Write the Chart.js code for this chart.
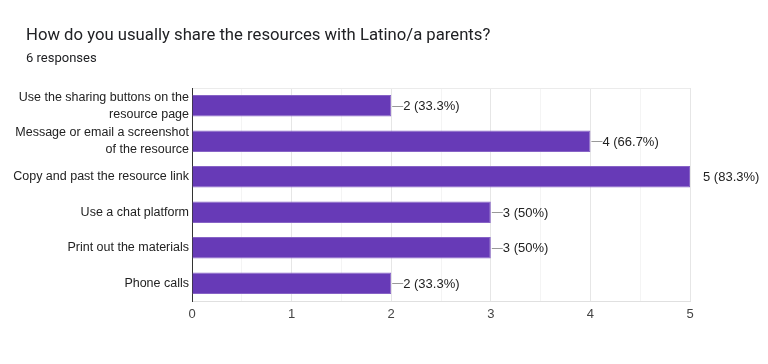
<!DOCTYPE html>
<html lang="en">
<head>
    <meta charset="UTF-8">
    <title>Share resources</title>
    <script src="https://cdn.jsdelivr.net/npm/chart.js"></script>
    <style>
        body { margin: 0; background: #fff; }
        #wrap { position: relative; width: 768px; height: 364px; }
        #title { position: absolute; left: 26px; top: 25px; font: 16.7px Roboto, sans-serif; color: #202124; white-space: nowrap; }
        #sub { position: absolute; left: 26px; top: 50px; font: 13px Roboto, sans-serif; color: #202124; }
        canvas { position: absolute; left: 0; top: 0; }
    </style>
</head>
<body>
<div id="wrap">
    <canvas id="chart" width="768" height="364"></canvas>
    <div id="title">How do you usually share the resources with Latino/a parents?</div>
    <div id="sub">6 responses</div>
</div>
<script>
    const categories = [
        ['Use the sharing buttons on the', 'resource page'],
        ['Message or email a screenshot', 'of the resource'],
        'Copy and past the resource link',
        'Use a chat platform',
        'Print out the materials',
        'Phone calls'
    ];
    const counts = [2, 4, 5, 3, 3, 2];
    const valueLabels = ['2 (33.3%)', '4 (66.7%)', '5 (83.3%)', '3 (50%)', '3 (50%)', '2 (33.3%)'];
    const xTicks = [0, 1, 2, 3, 4, 5];

    // etiquettes de valeur a droite des barres
    const valueLabelPlugin = {
        id: 'valueLabels',
        afterDatasetsDraw(chart) {
            const ctx = chart.ctx;
            const meta = chart.getDatasetMeta(0);
            const max = Math.max(...counts);
            ctx.save();
            ctx.font = '13px Arial, "Liberation Sans", sans-serif';
            ctx.textBaseline = 'middle';
            ctx.fillStyle = '#222';
            meta.data.forEach((bar, i) => {
                const x = bar.x, y = bar.y;
                if (counts[i] < max) {
                    ctx.strokeStyle = '#999';
                    ctx.lineWidth = 1;
                    ctx.beginPath();
                    ctx.moveTo(x + 1, Math.round(y) + 0.5);
                    ctx.lineTo(x + 12, Math.round(y) + 0.5);
                    ctx.stroke();
                    ctx.fillText(valueLabels[i], x + 12, y + 1);
                } else {
                    ctx.fillText(valueLabels[i], x + 13, y + 1);
                }
            });
            ctx.restore();
        }
    };

    new Chart(document.getElementById('chart'), {
        type: 'bar',
        data: {
            labels: categories,
            datasets: [{
                data: counts,
                backgroundColor: '#673ab7',
                borderColor: '#8763c6',
                borderWidth: 1,
                barPercentage: 0.61,
                categoryPercentage: 1
            }]
        },
        options: {
            indexAxis: 'y',
            responsive: false,
            animation: false,
            layout: { padding: { top: 88, right: 78, left: 0, bottom: 0 } },
            plugins: {
                legend: { display: false },
                tooltip: { enabled: false }
            },
            scales: {
                x: {
                    min: 0,
                    max: 5,
                    afterBuildTicks(scale) {
                        const t = [];
                        for (let v = 0; v <= 5; v += 0.5) t.push({ value: v });
                        scale.ticks = t;
                    },
                    afterFit(scale) { scale.height = 63; },
                    ticks: {
                        autoSkip: false,
                        maxRotation: 0,
                        padding: 6,
                        color: '#444',
                        font: { family: 'Arial, "Liberation Sans", sans-serif', size: 13 },
                        callback: (v) => xTicks.includes(v) ? String(v) : ''
                    },
                    grid: {
                        drawTicks: false,
                        color: (c) => (c.tick && Number.isInteger(c.tick.value)) ? '#e6e6e6' : '#f4f4f4'
                    },
                    border: { color: '#e0e0e0' }
                },
                y: {
                    afterFit(scale) { scale.width = 192; },
                    ticks: {
                        autoSkip: false,
                        color: '#222',
                        padding: 3,
                        font: { family: 'Arial, "Liberation Sans", sans-serif', size: 12.5, lineHeight: '17px' }
                    },
                    grid: {
                        offset: true,
                        drawTicks: false,
                        color: (c) => (c.index === 0 || c.index === categories.length) ? '#ebebeb' : 'rgba(0,0,0,0)'
                    },
                    border: { color: '#333', width: 1 }
                }
            }
        },
        plugins: [valueLabelPlugin]
    });
</script>
</body>
</html>
